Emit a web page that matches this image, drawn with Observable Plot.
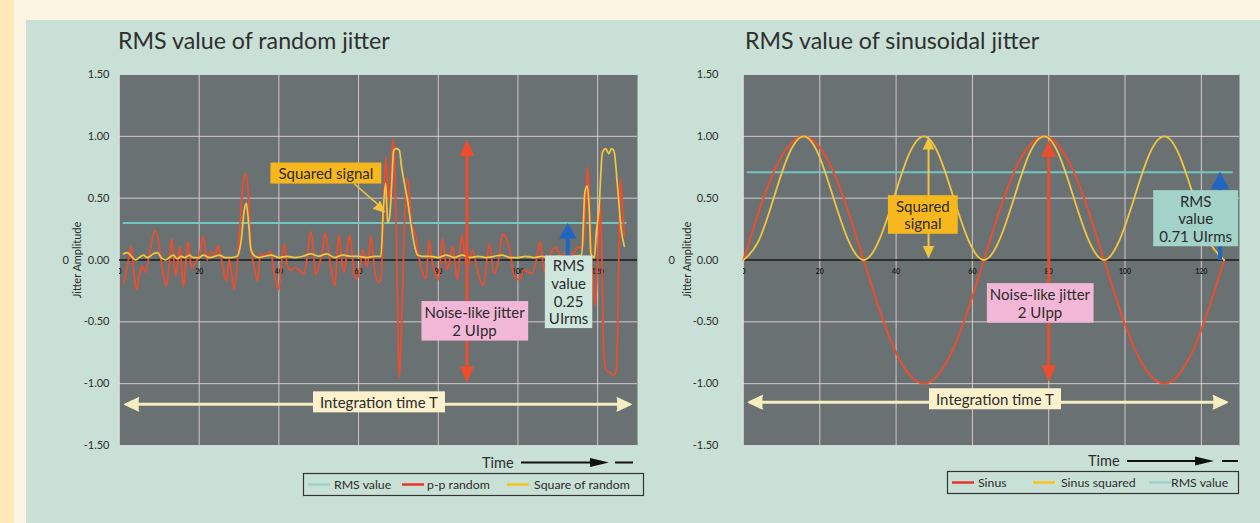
<!DOCTYPE html>
<html>
<head>
<meta charset="utf-8">
<script src="https://cdn.jsdelivr.net/npm/d3@7"></script>
<script src="https://cdn.jsdelivr.net/npm/@observablehq/plot@0.6"></script>
<style>
  body { margin: 0; }
  #page { position: relative; width: 1260px; height: 523px; overflow: hidden; background: #fdf5e4; font-family: Lato, "Open Sans", sans-serif; }
  #strip { position: absolute; left: 0; top: 0; width: 14px; height: 523px; background: #fde8b6; }
  #panel { position: absolute; left: 26px; top: 20px; right: 0; bottom: 0; background: #c9e0d6; }
  .chart { position: absolute; top: 60px; }
  #ov { position: absolute; left: 0; top: 0; }
</style>
</head>
<body>
<div id="page">
  <div id="strip"></div>
  <div id="panel"></div>
  <div id="left" class="chart" style="left:26px"></div>
  <div id="right" class="chart" style="left:650px"></div>
  <svg id="ov" width="1260" height="523"></svg>
</div>
<script>
// ---------- data ----------
const xTicks = [0, 20, 40, 60, 80, 100, 120];
const yTicks = [-1.5, -1, -0.5, 0, 0.5, 1, 1.5];
const yGrid = [-1.5, -1, -0.5, 0.5, 1, 1.5];

// left chart: random jitter (p-p random)
const randomX = [1.0,2.0,2.9,3.6,4.3,5.0,5.7,6.5,7.5,8.9,9.8,10.3,11.0,11.8,12.5,13.1,13.6,14.1,14.6,15.1,15.6,16.0,16.6,17.2,17.7,18.1,19.0,20.0,21.0,21.5,22.0,22.7,23.3,24.0,24.7,25.3,25.8,26.8,27.5,28.1,28.7,29.5,30.3,31.0,31.7,32.3,32.8,33.3,34.0,34.6,35.4,36.5,37.9,38.8,39.9,40.9,41.4,42.1,43.0,44.0,45.0,46.3,47.2,48.0,48.6,49.2,50.0,50.8,51.6,52.3,53.0,54.1,54.7,55.1,55.7,56.4,57.2,57.8,58.4,58.9,59.7,60.4,61.0,61.5,62.2,63.1,63.7,64.3,65.0,65.6,66.2,66.8,67.3,67.7,68.2,68.7,69.1,69.5,69.9,70.2,70.6,71.0,71.5,72.1,72.6,73.1,73.7,74.4,75.0,75.6,76.9,77.7,78.3,79.0,80.0,81.1,81.7,82.3,83.0,83.6,84.2,84.8,85.9,86.6,87.3,88.6,89.8,91.3,92.8,94.0,95.3,96.1,97.0,97.8,99.1,100.3,101.6,102.8,103.6,104.5,105.6,106.6,107.3,108.3,109.5,110.8,112.1,113.7,115.0,116.4,117.0,117.5,118.0,118.7,119.4,120.0,120.6,121.0,121.5,122.0,123.0,124.1,124.7,125.2,125.7,126.2,126.7];
const randomY = [-0.19,-0.05,0.11,-0.10,-0.24,-0.12,-0.05,-0.10,0.05,0.24,0.15,0.03,-0.12,-0.21,-0.02,0.17,0.02,-0.13,-0.02,0.11,-0.05,-0.22,-0.03,0.15,0.02,-0.07,-0.02,0.03,0.19,0.08,0.00,0.06,0.07,0.03,0.12,0.04,-0.03,-0.17,0.00,-0.10,-0.24,-0.05,0.30,0.62,0.70,0.55,0.20,0.02,-0.08,-0.17,0.05,0.03,0.07,-0.10,-0.24,0.05,0.13,-0.05,-0.08,-0.06,-0.08,-0.11,0.05,0.23,0.10,-0.12,-0.05,0.05,0.22,0.10,-0.05,-0.21,0.10,0.20,0.02,-0.10,0.10,0.20,0.05,-0.11,-0.15,-0.05,0.08,0.03,-0.05,0.19,0.02,-0.13,-0.18,-0.16,0.30,0.83,0.60,0.48,0.75,0.98,0.75,0.20,-0.60,-0.95,-0.70,-0.32,0.30,0.66,0.60,0.35,0.25,0.19,0.05,-0.05,-0.15,0.16,0.02,-0.08,-0.16,0.17,0.02,-0.08,0.02,0.11,-0.03,-0.16,0.20,0.05,-0.05,0.08,-0.08,-0.21,0.13,-0.11,0.03,0.21,0.18,0.10,-0.13,-0.16,-0.08,-0.10,-0.11,-0.02,0.15,-0.10,-0.05,0.06,0.10,0.03,0.06,0.05,0.10,0.11,0.45,0.75,0.40,-0.10,-0.37,0.00,0.48,0.10,-0.70,-0.88,-0.91,-0.93,-0.90,-0.20,0.66,0.45,0.19];

// left chart: square of random
const squareX = [1.0,2.0,3.0,4.0,5.0,6.0,7.0,8.5,9.5,10.5,11.5,12.5,13.5,14.5,15.5,16.5,17.5,18.5,20.0,21.0,22.5,24.0,25.0,26.5,28.0,29.5,30.5,31.3,31.8,32.4,33.0,34.0,35.0,36.5,38.0,40.0,42.0,44.0,46.0,48.0,50.0,52.0,54.0,56.0,58.0,60.0,62.0,64.0,65.6,66.2,66.8,67.3,67.8,68.3,68.8,69.3,70.2,70.8,71.5,72.3,73.1,73.9,74.8,76.0,78.0,80.0,82.0,84.0,86.0,88.0,90.0,92.0,94.0,96.0,98.0,100.0,102.0,104.0,106.0,108.0,110.0,112.0,114.0,116.0,116.8,117.4,117.9,118.3,119.2,119.6,120.3,121.2,122.0,122.8,123.5,124.1,125.0,125.9,126.7];
const squareY = [0.05,0.06,0.03,0.00,0.02,0.04,0.02,0.05,0.06,0.02,0.00,0.02,0.04,0.01,0.03,0.02,0.04,0.02,0.02,0.04,0.02,0.03,0.04,0.02,0.02,0.03,0.15,0.40,0.46,0.30,0.08,0.03,0.02,0.03,0.04,0.02,0.03,0.02,0.03,0.05,0.03,0.05,0.02,0.04,0.03,0.03,0.02,0.03,0.03,0.40,0.62,0.30,0.35,0.60,0.88,0.90,0.89,0.75,0.62,0.48,0.30,0.14,0.04,0.03,0.03,0.02,0.04,0.02,0.04,0.02,0.03,0.02,0.03,0.04,0.02,0.02,0.03,0.02,0.03,0.02,0.03,0.02,0.03,0.04,0.55,0.60,0.40,0.05,0.02,0.20,0.40,0.87,0.90,0.86,0.90,0.88,0.59,0.25,0.11];

const leftRms = 0.30;
const leftRmsX = [1, 127];

// right chart: sinusoidal jitter
const sinusX = [0,3.9,7.9,11.8,15.8,19.7,23.6,27.6,31.5,35.4,39.4,43.3,47.3,51.2,55.1,59.1,63.0,66.9,70.9,74.8,78.8,82.7,86.6,90.6,94.5,98.4,102.4,106.3,110.3,114.2,118.1,122.1,126.0];
const sinusY = [0,0.38,0.71,0.92,1,0.92,0.71,0.38,0,-0.38,-0.71,-0.92,-1,-0.92,-0.71,-0.38,0,0.38,0.71,0.92,1,0.92,0.71,0.38,0,-0.38,-0.71,-0.92,-1,-0.92,-0.71,-0.38,0];
const sinusSqY = [0,0.15,0.5,0.85,1,0.85,0.5,0.15,0,0.15,0.5,0.85,1,0.85,0.5,0.15,0,0.15,0.5,0.85,1,0.85,0.5,0.15,0,0.15,0.5,0.85,1,0.85,0.5,0.15,0];
const rightRms = 0.71;
const rightRmsX = [1, 128];

// annotations (text + anchor in data units)
const leftNotes = [
  {text: "Squared signal", x: 51.8, y: 0.70, kind: "orange"},
  {text: "Noise-like jitter\n2 UIpp", x: 89.1, y: -0.495, kind: "pink"},
  {text: "RMS\nvalue\n0.25\nUIrms", x: 112.7, y: -0.26, kind: "mint"},
  {text: "Integration time T", x: 65.1, y: -1.15, kind: "cream"}
];
const rightNotes = [
  {text: "Squared\nsignal", x: 47.0, y: 0.365, kind: "orange"},
  {text: "Noise-like jitter\n2 UIpp", x: 77.7, y: -0.35, kind: "pink"},
  {text: "RMS\nvalue\n0.71 UIrms", x: 118.5, y: 0.335, kind: "teal"},
  {text: "Integration time T", x: 65.9, y: -1.125, kind: "cream"}
];

const leftLegend = ["RMS value", "p-p random", "Square of random"];
const rightLegend = ["Sinus", "Sinus squared", "RMS value"];

// ---------- style ----------
const PLOT_BG = "#6a7173", GRID = "#ecdde0", RED = "#ec4d2d", YEL = "#f3c63e", TEAL = "#72c6c6",
      BLUE = "#1f66c2", PALE = "#f5efbf", TXT = "#2c2c2c", FONT = "Lato, 'Open Sans', sans-serif";
const kinds = {
  orange: {fill: "#f7b81e", px: 8, py: 1.5},
  pink: {fill: "#f2b7d7", px: 3, py: 2},
  mint: {fill: "#cfe6dd", px: 4, py: 1},
  teal: {fill: "#a2d2c8", px: 6, py: 1.5},
  cream: {fill: "#fbf1cd", px: 7, py: 1.5}
};

const toPts = (xs, ys) => xs.map((x, i) => ({x, y: ys[i]}));

function baseMarks(tickPad, labelOffset, strayDx) {
  return [
    Plot.frame({fill: PLOT_BG, stroke: null}),
    Plot.gridX(xTicks.filter(d => d > 0), {stroke: GRID, strokeOpacity: 0.8}),
    Plot.gridY(yGrid, {stroke: GRID, strokeOpacity: 0.8}),
    Plot.ruleX([0], {stroke: GRID, strokeOpacity: 0.6}),
    Plot.axisY(yTicks, {tickSize: 0, tickPadding: tickPad, fontSize: 11, tickFormat: d => d.toFixed(2),
      label: "Jitter Amplitude", labelAnchor: "center", labelOffset, labelArrow: "none"}),
    Plot.text([0], {y: d => d, text: () => "0", frameAnchor: "left", dx: strayDx, fontSize: 11, fill: TXT}),
    Plot.ruleY([0], {stroke: "#191919", strokeWidth: 1.6}),
    Plot.text(xTicks, {x: d => d, y: 0, dy: 12, text: d => String(d), fontSize: 7, fontWeight: "bold", fill: "#1a1a1a", clip: true})
  ];
}

function vArrowMarks(x, yTop, yBot, color, w, headL, headR, shaftCut, both) {
  const marks = [
    Plot.link([0], {x1: () => x, x2: () => x, y1: () => yTop - shaftCut, y2: () => both ? yBot + shaftCut : yBot, stroke: color, strokeWidth: w}),
    Plot.vector([0], {x: () => x, y: () => yTop, rotate: 0, length: headL, r: headR, shape: "spike", anchor: "end", fill: color, stroke: color, strokeWidth: 0.5})
  ];
  if (both) marks.push(Plot.vector([0], {x: () => x, y: () => yBot, rotate: 180, length: headL, r: headR, shape: "spike", anchor: "end", fill: color, stroke: color, strokeWidth: 0.5}));
  return marks;
}
function hArrowMarks(x1, x2, y, cut) {
  return [
    Plot.link([0], {x1: () => x1 + cut, x2: () => x2 - cut, y1: () => y, y2: () => y, stroke: PALE, strokeWidth: 3}),
    Plot.vector([0], {x: () => x2, y: () => y, rotate: 90, length: 14, r: 6.5, shape: "spike", anchor: "end", fill: PALE, stroke: PALE}),
    Plot.vector([0], {x: () => x1, y: () => y, rotate: -90, length: 14, r: 6.5, shape: "spike", anchor: "end", fill: PALE, stroke: PALE})
  ];
}
function noteMarks(notes) {
  return Plot.text(notes, {x: "x", y: "y", text: "text", fontSize: 15, lineHeight: 1.17, fill: TXT,
    textAnchor: "middle", lineAnchor: "middle"});
}

const common = {
  width: 620, height: 400, marginTop: 14, marginBottom: 15,
  x: {domain: [0, 130], axis: null},
  y: {domain: [-1.5, 1.5], axis: null},
  style: {fontFamily: FONT, color: TXT, background: "transparent", overflow: "visible"}
};

const leftPlot = Plot.plot({
  ...common, width: 620, marginLeft: 93, marginRight: 9,
  marks: [
    ...baseMarks(10, 46, -57),
    Plot.line(leftRmsX, {x: d => d, y: () => leftRms, stroke: TEAL, strokeWidth: 2}),
    Plot.line(toPts(randomX, randomY), {x: "x", y: "y", stroke: RED, strokeWidth: 1.8, curve: "monotone-x"}),
    Plot.line(toPts(squareX, squareY), {x: "x", y: "y", stroke: YEL, strokeWidth: 1.7, curve: "monotone-x"}),
    ...vArrowMarks(87.2, 0.97, -0.99, RED, 3, 16, 7, 0.1, true),
    ...vArrowMarks(112.5, 0.295, 0.0, BLUE, 4, 15, 8.5, 0.1, false),
    Plot.link([0], {x1: () => 58.9, y1: () => 0.617, x2: () => 65.2, y2: () => 0.44, stroke: YEL, strokeWidth: 1.5}),
    Plot.vector([0], {x: () => 66.4, y: () => 0.389, rotate: 133.5, length: 10, r: 4.5, shape: "spike", anchor: "end", fill: YEL, stroke: YEL}),
    ...hArrowMarks(1.3, 128.4, -1.167, 3),
    noteMarks(leftNotes)
  ]
});

const rightPlot = Plot.plot({
  ...common, width: 610, marginLeft: 93, marginRight: 21,
  marks: [
    ...baseMarks(25, 60, -75),
    Plot.line(rightRmsX, {x: d => d, y: () => rightRms, stroke: TEAL, strokeWidth: 2}),
    Plot.line(toPts(sinusX, sinusY), {x: "x", y: "y", stroke: RED, strokeWidth: 2, curve: "natural"}),
    Plot.line(toPts(sinusX, sinusSqY), {x: "x", y: "y", stroke: YEL, strokeWidth: 1.8, curve: "natural"}),
    ...vArrowMarks(48.5, 0.99, 0.016, YEL, 2, 12, 5.5, 0.08, true),
    ...vArrowMarks(80.0, 0.965, -0.98, RED, 3, 16, 7, 0.1, true),
    ...vArrowMarks(124.9, 0.71, 0.0, BLUE, 4, 17, 9, 0.1, false),
    ...hArrowMarks(1.3, 126.8, -1.15, 3.2),
    noteMarks(rightNotes)
  ]
});

document.getElementById("left").appendChild(leftPlot);
document.getElementById("right").appendChild(rightPlot);

const NS = "http://www.w3.org/2000/svg";
function addBoxes(svg, notes) {
  svg.querySelectorAll("text").forEach(t => {
    const note = notes.find(n => n.text.replace(/\n/g, "") === t.textContent);
    if (!note) return;
    const k = kinds[note.kind];
    const b = t.getBBox();
    const r = document.createElementNS(NS, "rect");
    r.setAttribute("x", b.x - k.px);
    r.setAttribute("y", b.y - k.py);
    r.setAttribute("width", b.width + 2 * k.px);
    r.setAttribute("height", b.height + 2 * k.py);
    r.setAttribute("fill", k.fill);
    r.setAttribute("stroke", "none");
    const tr = t.getAttribute("transform");
    if (tr) r.setAttribute("transform", tr);
    t.parentNode.insertBefore(r, t);
  });
}
addBoxes(leftPlot, leftNotes);
addBoxes(rightPlot, rightNotes);

// ---------- overlay: titles, time arrows, legends ----------
const ov = d3.select("#ov").style("font-family", FONT);
ov.append("text").attr("x", 118).attr("y", 49).attr("font-size", 23.2).attr("fill", "#2f2f2f").text("RMS value of random jitter");
ov.append("text").attr("x", 745).attr("y", 49).attr("font-size", 23.2).attr("fill", "#2f2f2f").text("RMS value of sinusoidal jitter");

function timeArrow(xText, xLine1, xTri, xDash1, xDash2, y) {
  ov.append("text").attr("x", xText).attr("y", y + 5).attr("font-size", 14.5).attr("fill", TXT).text("Time");
  ov.append("line").attr("x1", xLine1).attr("x2", xTri + 2).attr("y1", y).attr("y2", y).attr("stroke", "#111").attr("stroke-width", 2);
  ov.append("polygon").attr("points", `${xTri},${y - 4.5} ${xTri + 19},${y} ${xTri},${y + 4.5}`).attr("fill", "#111");
  ov.append("line").attr("x1", xDash1).attr("x2", xDash2).attr("y1", y).attr("y2", y).attr("stroke", "#111").attr("stroke-width", 2);
}
timeArrow(482, 521, 590, 615, 633, 462.5);
timeArrow(1088, 1127, 1195, 1222, 1238, 461);

function legend(box, items, colors, swatchX, textX) {
  ov.append("rect").attr("x", box[0] + 0.5).attr("y", box[1] + 0.5).attr("width", box[2]).attr("height", box[3])
    .attr("fill", "none").attr("stroke", "#333").attr("stroke-width", 1.2);
  const yMid = box[1] + box[3] / 2 + 0.5;
  items.forEach((label, i) => {
    ov.append("line").attr("x1", swatchX[i]).attr("x2", swatchX[i] + 22).attr("y1", yMid).attr("y2", yMid)
      .attr("stroke", colors[i]).attr("stroke-width", 2.5);
    ov.append("text").attr("x", textX[i]).attr("y", yMid + 4.3).attr("font-size", 12.3).attr("fill", TXT).text(label);
  });
}
legend([303, 473, 340, 22], leftLegend, ["#9dd3c9", "#e8352b", "#f7c21c"], [308, 402, 507], [334, 427, 534]);
legend([947, 471, 291, 22], rightLegend, ["#e8352b", "#f7c21c", "#9dd3c9"], [952, 1033, 1149], [978, 1061, 1171]);
</script>
</body>
</html>
